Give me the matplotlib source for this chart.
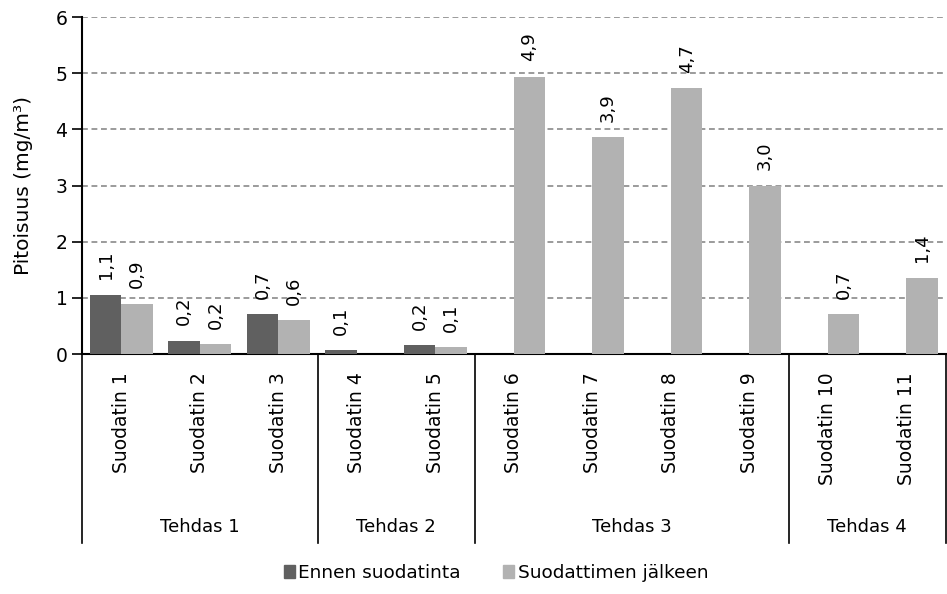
import numpy as np
import matplotlib
matplotlib.use('Agg')
import matplotlib.pyplot as plt
from matplotlib.transforms import blended_transform_factory
from matplotlib.patches import Patch

plt.rcParams['font.family'] = 'DejaVu Sans'

# data
filters = ['Suodatin 1', 'Suodatin 2', 'Suodatin 3', 'Suodatin 4', 'Suodatin 5',
           'Suodatin 6', 'Suodatin 7', 'Suodatin 8', 'Suodatin 9', 'Suodatin 10',
           'Suodatin 11']
factories = ['Tehdas 1', 'Tehdas 2', 'Tehdas 3', 'Tehdas 4']
factory_sizes = [3, 2, 4, 2]
before = [1.06, 0.24, 0.71, 0.07, 0.16, np.nan, np.nan, np.nan, np.nan, np.nan, np.nan]
after = [0.90, 0.17, 0.60, np.nan, 0.12, 4.94, 3.87, 4.74, 3.00, 0.71, 1.36]
series_names = ['Ennen suodatinta', 'Suodattimen jälkeen']

dark = '#606060'
light = '#b2b2b2'

fig = plt.figure(figsize=(9.47, 5.94), dpi=100)
ax = fig.add_axes([0.0866, 0.404, 0.912, 0.567])

x = np.arange(len(filters))
w = 0.4
ax.bar(x - w / 2, before, w, color=dark, zorder=3)
ax.bar(x + w / 2, after, w, color=light, zorder=3)

def fmt(v):
    return f"{v:.1f}".replace('.', ',')

for xs, vals in ((x - w / 2, before), (x + w / 2, after)):
    for xi, v in zip(xs, vals):
        if np.isnan(v):
            continue
        ax.annotate(fmt(v), (xi, v), xytext=(0, 11), textcoords='offset points',
                    rotation=90, ha='center', va='bottom', fontsize=13)

ax.set_xlim(-0.5, len(filters) - 0.5)
ax.set_ylim(0, 6)
ax.set_yticks(range(7))
ax.yaxis.grid(True, linestyle=(0, (3.5, 2.2)), color='#8a8a8a', linewidth=1.2, zorder=0)
ax.tick_params(axis='y', labelsize=13.5, length=7, width=1.2, direction='out')

ax.set_xticks(x)
ax.set_xticklabels(filters, rotation=90, fontsize=13.5)
ax.tick_params(axis='x', length=0, pad=13)

for s in ('top', 'right'):
    ax.spines[s].set_visible(False)
ax.spines['left'].set_linewidth(1.5)
ax.spines['bottom'].set_linewidth(1.5)

ax.set_ylabel('Pitoisuus (mg/m³)', fontsize=14.5)
ax.yaxis.set_label_coords(-0.057, 0.5)

# group separators and factory labels
trans = blended_transform_factory(ax.transData, ax.transAxes)
edges = np.concatenate([[0], np.cumsum(factory_sizes)]) - 0.5
for e in edges:
    ax.plot([e, e], [0, -0.56], color='black', linewidth=1.2, transform=trans,
            clip_on=False)
for fname, a, b in zip(factories, edges[:-1], edges[1:]):
    ax.text((a + b) / 2, -0.515, fname, transform=trans, ha='center', va='center',
            fontsize=13)

handles = [Patch(color=dark), Patch(color=light)]
fig.legend(handles, series_names, loc='center', bbox_to_anchor=(0.524, 0.035),
           ncol=2, frameon=False, handlelength=0.6, handleheight=0.7,
           handletextpad=0.2, columnspacing=2.3, fontsize=13.3)

fig.savefig('out.png', dpi=100)
